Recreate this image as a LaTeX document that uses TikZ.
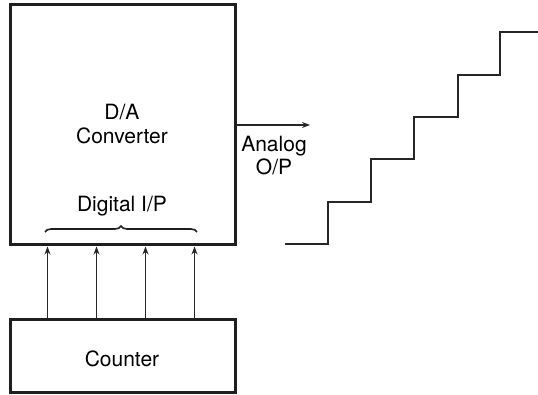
\documentclass[tikz,border=0pt]{standalone}
\usepackage{fontspec}
\setmainfont{TeX Gyre Heros}
\usetikzlibrary{arrows.meta,decorations.pathreplacing}
\begin{document}
\begin{tikzpicture}[x=1pt,y=-1pt,
  box/.style={draw=black!88,line width=3pt,inner sep=0pt},
  lbl/.style={anchor=base,inner sep=0pt,font=\fontsize{21}{24}\selectfont},
  arr/.style={line width=1.3pt,draw=black!85,-{Stealth[length=8pt,width=6pt]}},
  wave/.style={line width=1.4pt,draw=black!85}]
\useasboundingbox (0,0) rectangle (538,395);
\node[box,minimum width=225pt,minimum height=240pt] (dac) at (122.5,125) {};
\node[box,minimum width=225pt,minimum height=73pt] (counter) at (122.5,355.5) {};
\node[lbl] (t1) at (122,120) {D/A};
\node[lbl] (t2) at (122,144) {Converter};
\node[lbl] (t3) at (122,212) {Digital I/P};
\node[lbl] (t4) at (122,366) {Counter};
\node[lbl] (t5) at (274,152) {Analog};
\node[lbl] (t6) at (274,175) {O/P};
\coordinate (b1) at (45,232);
\coordinate (b2) at (197,232);
\draw[line width=1.6pt,draw=black!88,decorate,decoration={brace,amplitude=6pt}] (b1) -- (b2);
\foreach \x in {39,88,137,186}
  \draw[arr] ([xshift=\x pt]counter.north west) -- ([xshift=\x pt]dac.south west);
\coordinate (ao) at (310,125);
\draw[arr] (dac.east) -- (ao);
\coordinate (s0) at (285,244);
\coordinate (s1) at (538,32);
\draw[wave] (s0) -- (328,244) -- (328,202) -- (371,202) -- (371,159) -- (414,159) -- (414,117) -- (458,117) -- (458,75) -- (500,75) -- (500,32) -- (s1);
\end{tikzpicture}
\end{document}
